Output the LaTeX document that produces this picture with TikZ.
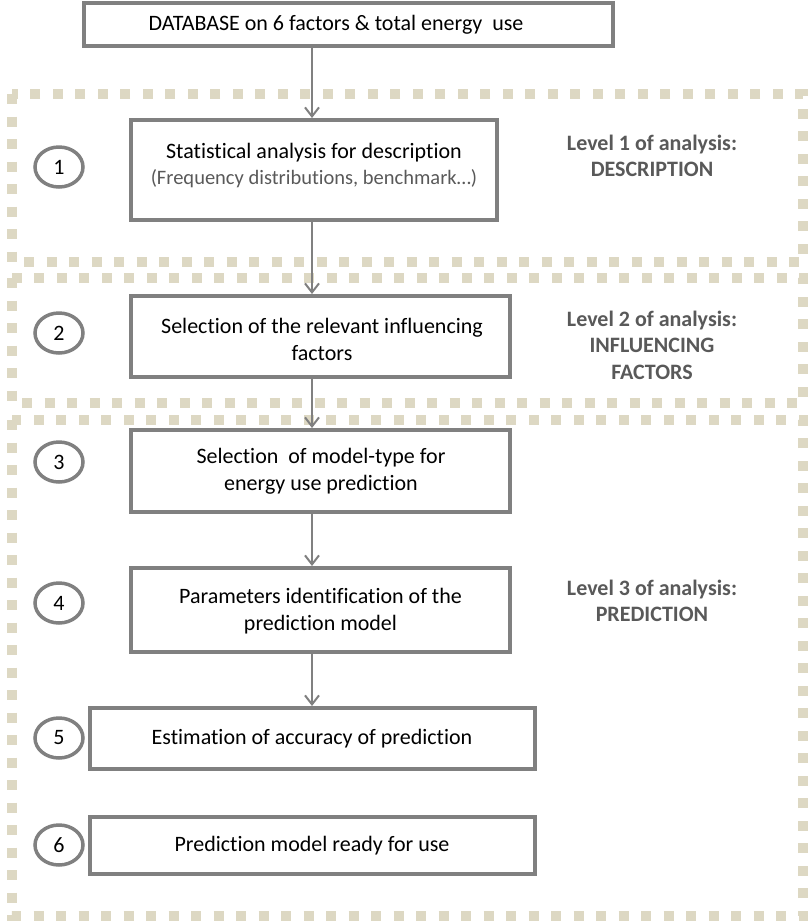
\documentclass[tikz,border=0pt]{standalone}
\usepackage{fontspec}
\setmainfont{Carlito}[Ligatures=NoCommon]
\usetikzlibrary{arrows.meta,shapes.geometric}
\definecolor{khaki}{RGB}{221,216,195}
\definecolor{boxgray}{RGB}{128,128,128}
\definecolor{labgray}{RGB}{89,89,89}
\tikzset{
  dashbox/.style={draw=khaki, line width=10pt, dash pattern=on 10pt off 12.5pt},
  stepbox/.style={draw=boxgray, line width=4pt, rectangle, inner sep=0pt, align=center,
    font=\fontsize{22}{27}\selectfont},
  numcirc/.style={draw=boxgray, line width=3.5pt, ellipse, inner sep=0pt,
    minimum width=48pt, minimum height=40pt, font=\fontsize{22}{26}\selectfont},
  levellab/.style={align=center, text=labgray, font=\bfseries\fontsize{22}{26.5}\selectfont},
  boxtext/.style={align=center, inner sep=0pt, font=\fontsize{22}{27}\selectfont},
  arr/.style={draw=boxgray, line width=2pt, -{Straight Barb[length=9pt,width=14pt]}},
}
\begin{document}
\begin{tikzpicture}[x=1pt,y=-1pt]
\useasboundingbox (0,0) rectangle (809,922);
% dotted level frames
\draw[dashbox] (12,94) rectangle (803,262);
\draw[dashbox] (12,278) rectangle (803,403);
\draw[dashbox] (12,420) rectangle (803,916);
% boxes
\node[stepbox, minimum width=529pt, minimum height=43pt] (db) at (348.5,24.5) {};
\node[boxtext] (dbt) at (336,25) {DATABASE on 6 factors \& total energy\ \ use};
\node[stepbox, minimum width=366pt, minimum height=100pt] (b1) at (314,170) {};
\node[boxtext] (b1t) at (314,166) {Statistical analysis for description\\[-1pt]
  {\color{labgray}\fontsize{20.5}{24}\selectfont(Frequency distributions, benchmark…)}};
\node[stepbox, minimum width=379pt, minimum height=81pt] (b2) at (320.5,336.5) {};
\node[boxtext] (b2t) at (322,339) {Selection of the relevant influencing\\factors};
\node[stepbox, minimum width=379pt, minimum height=82pt] (b3) at (320.5,471) {};
\node[boxtext] (b3t) at (321,471.5) {Selection\ \ of model-type for\\energy use prediction};
\node[stepbox, minimum width=379pt, minimum height=84pt] (b4) at (320.5,610) {};
\node[boxtext] (b4t) at (320.5,611) {Parameters identification of the\\prediction model};
\node[stepbox, minimum width=445pt, minimum height=61pt] (b5) at (312.5,738.5) {};
\node[boxtext] (b5t) at (312,738.5) {Estimation of accuracy of prediction};
\node[stepbox, minimum width=445pt, minimum height=57pt] (b6) at (312.5,845.5) {};
\node[boxtext] (b6t) at (312,845.5) {Prediction model ready for use};
% number circles
\node[numcirc] (c1) at (59,167) {1};
\node[numcirc] (c2) at (59,333) {2};
\node[numcirc] (c3) at (59,462) {3};
\node[numcirc] (c4) at (59,603) {4};
\node[numcirc] (c5) at (59,738) {5};
\node[numcirc] (c6) at (59,845) {6};
% level labels
\node[levellab] (l1) at (652,156) {Level 1 of analysis:\\DESCRIPTION};
\node[levellab] (l2) at (652,345) {Level 2 of analysis:\\INFLUENCING\\FACTORS};
\node[levellab] (l3) at (652,601) {Level 3 of analysis:\\PREDICTION};
% arrows
\coordinate (ax) at (312,0);
\draw[arr] (db.south -| ax) -- (b1.north -| ax);
\draw[arr] (b1.south -| ax) -- (b2.north -| ax);
\draw[arr] (b2.south -| ax) -- (b3.north -| ax);
\draw[arr] (b3.south -| ax) -- (b4.north -| ax);
\draw[arr] (b4.south -| ax) -- (b5.north -| ax);
\end{tikzpicture}
\end{document}
